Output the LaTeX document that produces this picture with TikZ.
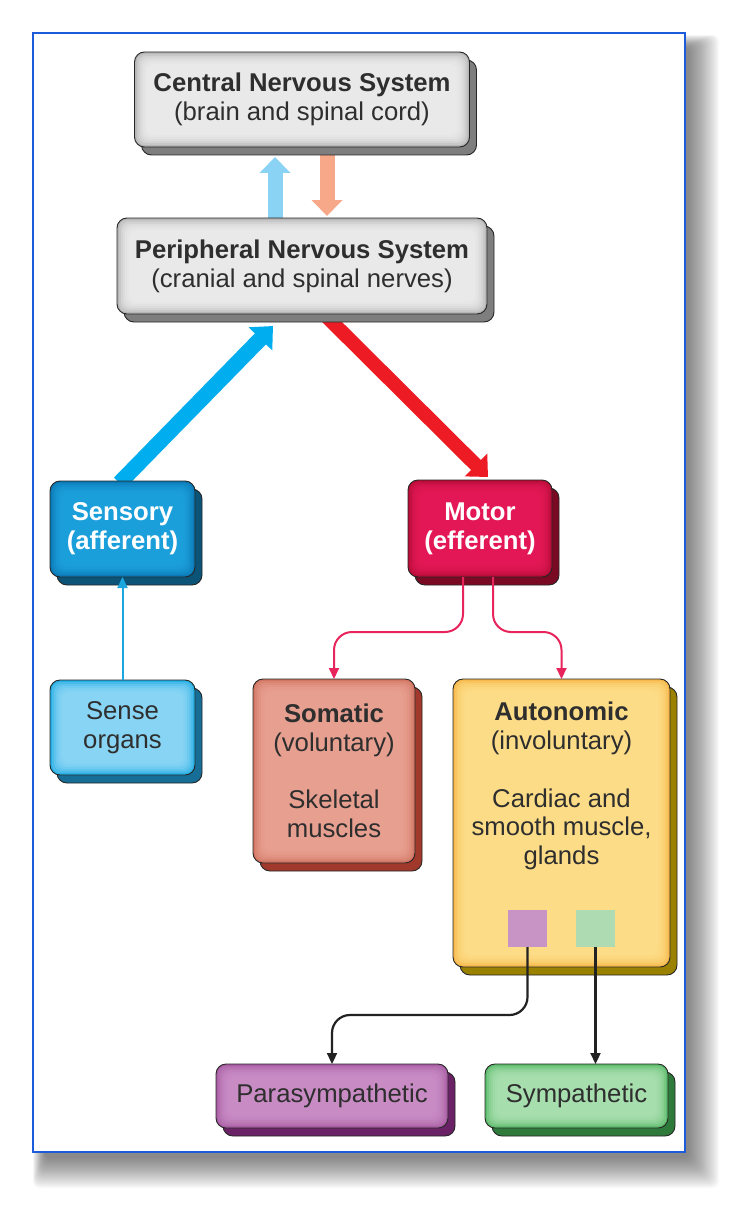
\documentclass[tikz,border=0pt]{standalone}
\usepackage{fontspec}
\setmainfont{Liberation Sans}
\usetikzlibrary{arrows.meta,calc}
\pgfdeclarelayer{frame}
\pgfdeclarelayer{conn}
\pgfdeclarelayer{shad}
\pgfsetlayers{frame,conn,shad,main}
\definecolor{framec}{HTML}{1C5BD9}
\definecolor{txt}{HTML}{2E2E2E}
\definecolor{gface}{HTML}{B5B5B5}\definecolor{gglow}{HTML}{F2F2F2}\definecolor{gshad}{HTML}{7E7E7E}
\definecolor{sface}{HTML}{0A78B4}\definecolor{sglow}{HTML}{1EA6E2}\definecolor{sshad}{HTML}{0B5478}
\definecolor{oface}{HTML}{26AEE3}\definecolor{oglow}{HTML}{96DBF7}\definecolor{oshad}{HTML}{166E96}
\definecolor{mface}{HTML}{B80D38}\definecolor{mglow}{HTML}{EA1A5A}\definecolor{mshad}{HTML}{7A0924}
\definecolor{soface}{HTML}{D27462}\definecolor{soglow}{HTML}{EBA697}\definecolor{soshad}{HTML}{A0392B}
\definecolor{aface}{HTML}{F6B84A}\definecolor{aglow}{HTML}{FFE390}\definecolor{ashad}{HTML}{9A8200}
\definecolor{pface}{HTML}{A85CA3}\definecolor{pglow}{HTML}{CD92C9}\definecolor{pshad}{HTML}{6A2165}
\definecolor{yface}{HTML}{5CBB6B}\definecolor{yglow}{HTML}{B3E3B8}\definecolor{yshad}{HTML}{2E7A3B}
\definecolor{psqc}{HTML}{C894C5}\definecolor{ssqc}{HTML}{AEDBB1}
\definecolor{ltblue}{HTML}{8AD3F5}\definecolor{salmon}{HTML}{F6A889}
\definecolor{cyanbig}{HTML}{00AEEF}\definecolor{redbig}{HTML}{ED1C24}
\definecolor{pinkc}{HTML}{E8245C}\definecolor{blk}{HTML}{222222}
\definecolor{sblue}{HTML}{1AA7E0}
\newcommand\bxfont{\fontsize{25.7}{28.8}\selectfont}
\newcommand\shadbox[2]{%
  \begin{pgfonlayer}{shad}
  \filldraw[draw=black!85, line width=0.9pt, fill=#2, rounded corners=10pt]
    ([xshift=7pt,yshift=-8pt]#1.north west) rectangle ([xshift=7pt,yshift=-8pt]#1.south east);
  \end{pgfonlayer}}
\tikzset{
  box/.style n args={3}{draw=black!85, line width=0.9pt, rounded corners=10pt,
    outer sep=0pt, inner sep=0pt, align=center, font=\bxfont, fill=#1, text=#3,
    path picture={
      \foreach \k in {1,...,6}{
        \fill[#2, opacity=0.3, rounded corners=8pt]
          ([xshift=\k*2pt, yshift=-\k*2pt]path picture bounding box.north west)
          rectangle ([xshift=-\k*2pt, yshift=\k*2pt]path picture bounding box.south east);
      }}},
  bigarrow/.style={line width=15pt},
  thin/.style={line width=2pt, rounded corners=18pt, -{Triangle[width=10pt,length=11pt]}}
}
\begin{document}
\begin{tikzpicture}[x=1pt,y=-1pt]
\useasboundingbox (0,0) rectangle (750,1217);
% frame with shadow
\begin{pgfonlayer}{frame}
\foreach \i in {0,...,30}
  \fill[black, opacity=0.02, rounded corners=6pt] ({45-0.4*\i},{47-0.4*\i}) rectangle ({689+\i},{1158+\i});
\fill[white] (33,33) rectangle (685,1152);
\draw[framec, line width=2.5pt] (33,33) rectangle (685,1152);
\end{pgfonlayer}

% boxes
\node[box={gface}{gglow}{txt}, minimum width=335pt, minimum height=95pt] (cns) at (302,99.5)
  {\textbf{Central Nervous System}\\(brain and spinal cord)};
\node[box={gface}{gglow}{txt}, minimum width=370pt, minimum height=96pt] (pns) at (302,266)
  {\textbf{Peripheral Nervous System}\\(cranial and spinal nerves)};
\node[box={sface}{sglow}{white}, minimum width=145pt, minimum height=96pt] (sens) at (122.5,529)
  {\textbf{Sensory}\\\textbf{(afferent)}};
\node[box={oface}{oglow}{txt}, minimum width=145pt, minimum height=95pt] (sorg) at (122.5,727.5)
  {Sense\\organs};
\node[box={mface}{mglow}{white}, minimum width=144pt, minimum height=97pt] (mot) at (480,528.5)
  {\textbf{Motor}\\\textbf{(efferent)}};
\node[box={soface}{soglow}{txt}, minimum width=162pt, minimum height=184pt] (som) at (334,771)
  {\textbf{Somatic}\\(voluntary)\\[28.8pt]Skeletal\\muscles};
\node[box={aface}{aglow}{txt}, minimum width=217pt, minimum height=288pt] (aut) at (561.5,823) {};
\node[font=\bxfont, align=center, text=txt, inner sep=0pt] (autt) at (561.5,786)
  {\textbf{Autonomic}\\(involuntary)\\[28.8pt]Cardiac and\\smooth muscle,\\glands};
\node[fill=psqc, minimum width=39pt, minimum height=37pt, inner sep=0pt, outer sep=0pt] (psq) at (527.5,928.5) {};
\node[fill=ssqc, minimum width=39pt, minimum height=37pt, inner sep=0pt, outer sep=0pt] (ssq) at (595.5,928.5) {};
\node[box={pface}{pglow}{txt}, minimum width=232pt, minimum height=64pt] (par) at (332,1096) {Parasympathetic};
\node[box={yface}{yglow}{txt}, minimum width=183pt, minimum height=64pt] (sym) at (576.5,1096) {Sympathetic};

% shadows
\shadbox{cns}{gshad}
\shadbox{pns}{gshad}
\shadbox{sens}{sshad}
\shadbox{sorg}{oshad}
\shadbox{mot}{mshad}
\shadbox{som}{soshad}
\shadbox{aut}{ashad}
\shadbox{par}{pshad}
\shadbox{sym}{yshad}

% big arrows
\begin{pgfonlayer}{conn}
\draw[bigarrow, ltblue, -{Triangle[width=30pt,length=16pt]}] ($(pns.north)+(-27,0)$) -- ($(cns.south)+(-27,10)$);
\draw[bigarrow, salmon, -{Triangle[width=30pt,length=16pt]}] ($(cns.south)+(25,6)$) -- ($(pns.north)+(25,-2)$);
\draw[bigarrow, line width=15.5pt, cyanbig, -{Triangle[width=32pt,length=18pt]}] ($(sens.north)+(-3,2)$) -- ($(pns.south)+(-29,12)$);
\draw[bigarrow, line width=14pt, redbig, -{Triangle[width=31pt,length=17pt]}] ($(pns.south)+(22,0)$) -- ($(mot.north)+(8,-3)$);
\end{pgfonlayer}

% thin connectors
\draw[thin, sblue] (sorg.north) -- (sens.south);
\draw[thin, pinkc] ($(mot.south)+(-17,0)$) |- ($(som.north)+(0,-47)$) -- (som.north);
\draw[thin, pinkc] ($(mot.south)+(13,0)$) |- ($(aut.north)+(0,-47)$) -- (aut.north);
\draw[thin, blk, line width=2.2pt] (psq.south) |- ($(par.north)+(0,-49)$) -- (par.north);
\draw[thin, blk, line width=2.2pt] (ssq.south) -- (ssq.south |- sym.north);
\end{tikzpicture}
\end{document}
